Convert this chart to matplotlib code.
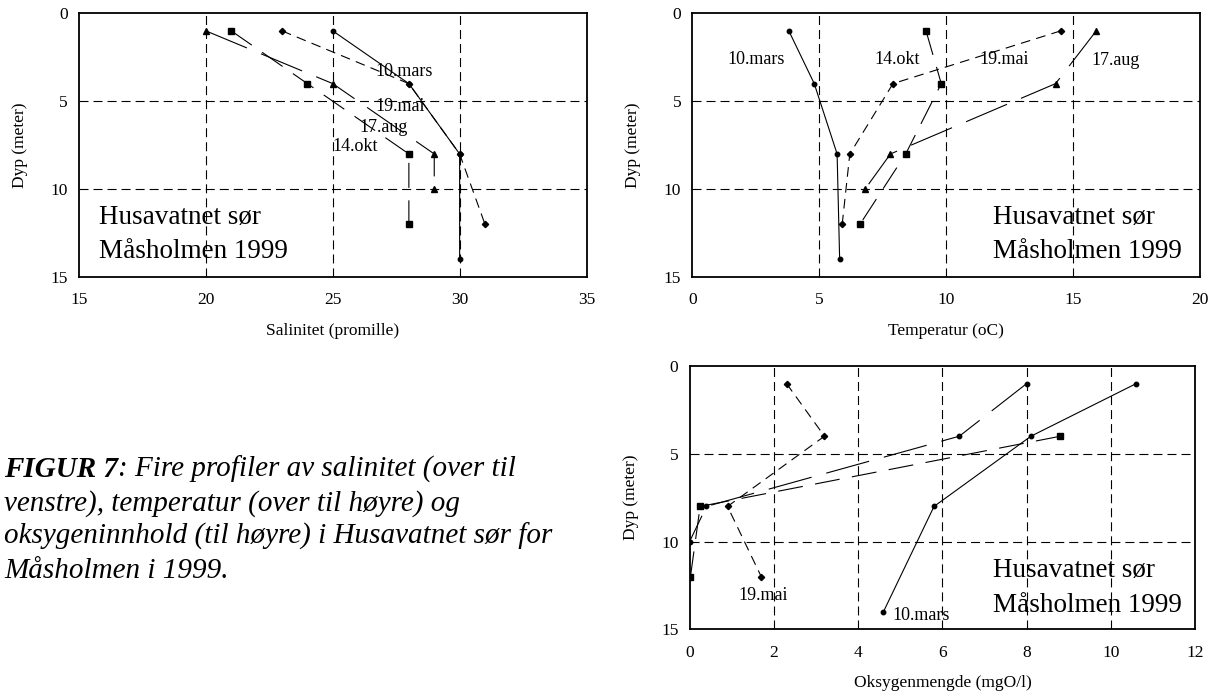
import matplotlib
matplotlib.use('Agg')
import matplotlib.pyplot as plt

plt.rcParams['font.family'] = ['Liberation Serif', 'DejaVu Serif']
plt.rcParams['lines.scale_dashes'] = False

# ---------------- data ----------------
# Salinity (promille)
sal_depth_mars = [1, 4, 8, 14]
sal_mars = [25, 28, 30, 30]
sal_depth_mai = [1, 4, 8, 12]
sal_mai = [23, 28, 30, 31]
sal_depth_aug = [1, 4, 8, 10]
sal_aug = [20, 25, 29, 29]
sal_depth_okt = [1, 4, 8, 12]
sal_okt = [21, 24, 28, 28]

# Temperature (oC)
tmp_depth_mars = [1, 4, 8, 14]
tmp_mars = [3.8, 4.8, 5.7, 5.8]
tmp_depth_mai = [1, 4, 8, 12]
tmp_mai = [14.5, 7.9, 6.2, 5.9]
tmp_depth_aug = [1, 4, 8, 10]
tmp_aug = [15.9, 14.3, 7.8, 6.8]
tmp_depth_okt = [1, 4, 8, 12]
tmp_okt = [9.2, 9.8, 8.4, 6.6]

# Oxygen (mgO/l)
oxy_depth_mars = [1, 4, 8, 14]
oxy_mars = [10.6, 8.1, 5.8, 4.6]
oxy_depth_mai = [1, 4, 8, 12]
oxy_mai = [2.3, 3.2, 0.9, 1.7]
oxy_depth_aug = [1, 4, 8, 10]
oxy_aug = [8.0, 6.4, 0.4, 0.0]
oxy_depth_okt = [4, 8, 12]
oxy_okt = [8.8, 0.25, 0.02]

sal_ticks = [15, 20, 25, 30, 35]
tmp_ticks = [0, 5, 10, 15, 20]
oxy_ticks = [0, 2, 4, 6, 8, 10, 12]
depth_ticks = [0, 5, 10, 15]

station_lines = ['Husavatnet sør', 'Måsholmen 1999']
caption_lines = ['venstre), temperatur (over til høyre) og',
                 'oksygeninnhold (til høyre) i Husavatnet sør for',
                 'Måsholmen i 1999.']

# ---------------- figure ----------------
W, H = 1213, 693
fig = plt.figure(figsize=(W / 100, H / 100), dpi=100)


def rect(l, t, r, b):
    return [l / W, 1 - b / H, (r - l) / W, (b - t) / H]


def make_ax(px, xlim, xticks, xlabel):
    l, t, r, b = px
    ax = fig.add_axes(rect(l, t, r, b))
    ax.set_xlim(*xlim)
    ax.set_ylim(15, 0)
    ax.set_xticks(xticks)
    ax.set_yticks(depth_ticks)
    ax.tick_params(length=0, labelsize=12.5)
    ax.tick_params(axis='x', pad=11)
    ax.tick_params(axis='y', pad=8)
    for xv in xticks[1:-1]:
        ax.axvline(xv, color='k', lw=0.8, dashes=(6.5, 3.6), zorder=1)
    for yv in depth_ticks[1:-1]:
        ax.axhline(yv, color='k', lw=0.8, dashes=(6.5, 3.6), zorder=1)
    for s in ax.spines.values():
        s.set_linewidth(1.3)
    ax.set_xlabel(xlabel, fontsize=12.5)
    ax.set_ylabel('Dyp (meter)', fontsize=12.5)
    wpx, hpx = r - l, b - t
    ax.xaxis.set_label_coords(0.5, -54 / hpx)
    ax.xaxis.label.set_va('center')
    ax.yaxis.set_label_coords(-59 / wpx, 0.5)
    ax.yaxis.label.set_va('center')
    return ax


STY = {
    'mars': dict(ls='-', marker='o', ms=3.2),
    'mai': dict(dashes=(7, 4.5), marker='D', ms=3.2),
    'aug': dict(dashes=(32, 11), marker='^', ms=4.5),
    'okt': dict(dashes=(18, 9), marker='s', ms=5),
}


def series(ax, x, y, key, marker=None):
    kw = dict(STY[key])
    if marker is not None:
        kw['marker'] = marker
        kw['ms'] = 3.2
    ax.plot(x, y, color='k', lw=0.8, mfc='k', mec='k', zorder=3, **kw)


def station(ax, x, y1, y2):
    ax.text(x, y1, station_lines[0], fontsize=19.5, va='baseline', ha='left', zorder=4)
    ax.text(x, y2, station_lines[1], fontsize=19.5, va='baseline', ha='left', zorder=4)


# Salinity
ax1 = make_ax((79, 13.3, 586.5, 277), (15, 35), sal_ticks, 'Salinitet (promille)')
series(ax1, sal_mars, sal_depth_mars, 'mars')
series(ax1, sal_mai, sal_depth_mai, 'mai')
series(ax1, sal_aug, sal_depth_aug, 'aug')
series(ax1, sal_okt, sal_depth_okt, 'okt')
ax1.text(26.67, 3.3, '10.mars', fontsize=13, va='center', ha='left')
ax1.text(26.67, 5.3, '19.mai', fontsize=13, va='center', ha='left')
ax1.text(26.06, 6.5, '17.aug', fontsize=13, va='center', ha='left')
ax1.text(25.0, 7.6, '14.okt', fontsize=13, va='center', ha='left')
station(ax1, 15.8, 12.0, 13.9)

# Temperature
ax2 = make_ax((692.3, 13.3, 1200.4, 277), (0, 20), tmp_ticks, 'Temperatur (oC)')
series(ax2, tmp_mars, tmp_depth_mars, 'mars')
series(ax2, tmp_mai, tmp_depth_mai, 'mai')
series(ax2, tmp_aug, tmp_depth_aug, 'aug')
series(ax2, tmp_okt, tmp_depth_okt, 'okt')
ax2.text(1.39, 2.6, '10.mars', fontsize=13, va='center', ha='left')
ax2.text(7.16, 2.6, '14.okt', fontsize=13, va='center', ha='left')
ax2.text(11.3, 2.6, '19.mai', fontsize=13, va='center', ha='left')
ax2.text(15.7, 2.7, '17.aug', fontsize=13, va='center', ha='left')
station(ax2, 11.83, 12.0, 13.9)

# Oxygen
ax3 = make_ax((689.6, 366, 1195.3, 629.3), (0, 12), oxy_ticks, 'Oksygenmengde (mgO/l)')
series(ax3, oxy_mars, oxy_depth_mars, 'mars')
series(ax3, oxy_mai, oxy_depth_mai, 'mai')
series(ax3, oxy_aug, oxy_depth_aug, 'aug', marker='o')
series(ax3, oxy_okt, oxy_depth_okt, 'okt')
ax3.text(1.16, 13.1, '19.mai', fontsize=13, va='center', ha='left')
ax3.text(4.82, 14.2, '10.mars', fontsize=13, va='center', ha='left')
station(ax3, 7.2, 12.0, 14.0)

# Caption
cap_x = 4 / W
base0 = 477
step = 33.5
t1 = fig.text(cap_x, 1 - base0 / H, 'FIGUR 7', fontsize=21, style='italic',
              weight='bold', va='baseline', ha='left')
fig.canvas.draw()
bb = t1.get_window_extent()
fig.text(bb.x1 / W, 1 - base0 / H, ': Fire profiler av salinitet (over til',
         fontsize=21, style='italic', va='baseline', ha='left')
for i, line in enumerate(caption_lines):
    fig.text(cap_x, 1 - (base0 + step * (i + 1)) / H, line, fontsize=21,
             style='italic', va='baseline', ha='left')

fig.savefig('out.png', dpi=100)
